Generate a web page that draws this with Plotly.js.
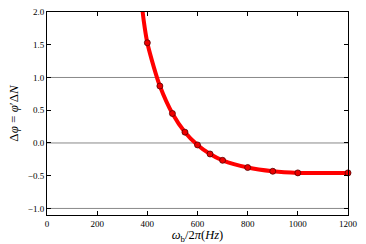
<!DOCTYPE html>
<html><head><meta charset="utf-8">
<script src="https://cdn.plot.ly/plotly-3.0.1.min.js"></script>
<style>html,body{margin:0;padding:0;background:#fff}#plot{width:366px;height:244px}</style>
</head><body><div id="plot"></div>
<script>
// measured points
const freqPoints = [400, 450, 500, 550, 600, 650, 700, 800, 900, 1000, 1200];
const phasePoints = [1.53, 0.87, 0.45, 0.165, -0.03, -0.168, -0.265, -0.375, -0.432, -0.457, -0.457];
// fitted curve
const freqCurve = [372, 380, 390, 400, 425, 450, 500, 550, 600, 650, 700, 800, 900, 1000, 1100, 1200];
const phaseCurve = [2.5, 2.05, 1.75, 1.53, 1.17, 0.87, 0.45, 0.165, -0.03, -0.168, -0.265, -0.375, -0.432, -0.457, -0.46, -0.46];
const gridLevels = [-1, 0, 1];
const xTicks = [0, 200, 400, 600, 800, 1000, 1200];
const yTicks = [-1.0, -0.5, 0.0, 0.5, 1.0, 1.5, 2.0];
const yTickText = ['\u22121.0', '\u22120.5', '0.0', '0.5', '1.0', '1.5', '2.0'];

const font = {family: 'Liberation Serif, DejaVu Serif, serif', size: 9, color: '#000'};

const traces = [
  {x: freqCurve, y: phaseCurve, mode: 'lines', line: {color: '#ff0000', width: 4, shape: 'spline', smoothing: 0.8}, hoverinfo: 'skip'},
  {x: freqPoints, y: phasePoints, mode: 'markers', marker: {color: '#ee0000', size: 6, line: {color: '#550000', width: 0.8}}, cliponaxis: false}
];

const layout = {
  width: 366, height: 244,
  margin: {l: 47, r: 18, t: 12, b: 29},
  paper_bgcolor: '#fff', plot_bgcolor: '#fff',
  showlegend: false,
  font: font,
  shapes: gridLevels.map(v => ({type: 'line', xref: 'paper', x0: 0, x1: 1, yref: 'y', y0: v, y1: v, line: {color: '#888', width: 1}, layer: 'below'})),
  xaxis: {
    range: [0, 1200], tickvals: xTicks, ticktext: xTicks.map(String),
    showgrid: false, zeroline: false, showline: true, linecolor: '#000', linewidth: 1, mirror: 'ticks',
    ticks: 'inside', ticklen: 4, tickcolor: '#000', tickfont: font,
    title: {text: '<i>ω</i><sub>b</sub>/2<i>π</i>(<i>Hz</i>)', font: {family: font.family, size: 12.5}, standoff: 3}
  },
  yaxis: {
    range: [-1.1, 2.0], tickvals: yTicks, ticktext: yTickText,
    showgrid: false, zeroline: false, showline: true, linecolor: '#000', linewidth: 1, mirror: 'ticks',
    ticks: 'inside', ticklen: 4, tickcolor: '#000', tickfont: font,
    title: {text: 'Δ<i>φ</i> = <i>φ</i>′Δ<i>N</i>', font: {family: font.family, size: 13}, standoff: 6}
  }
};
Plotly.newPlot('plot', traces, layout, {staticPlot: true, displayModeBar: false});
</script></body></html>
